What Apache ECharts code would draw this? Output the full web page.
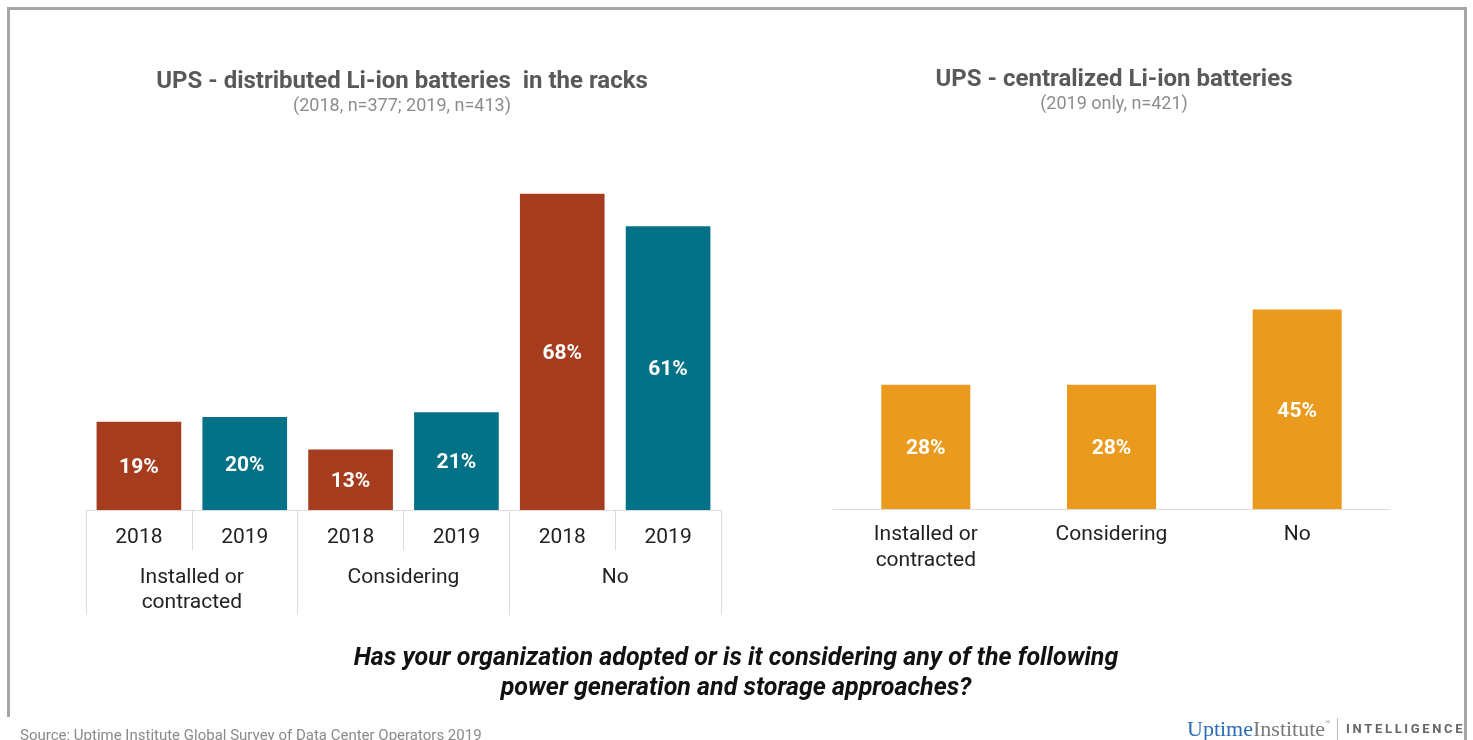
<!DOCTYPE html>
<html>
<head>
<meta charset="utf-8">
<script src="https://cdn.jsdelivr.net/npm/echarts@6/dist/echarts.min.js"></script>
<style>
  html, body { margin: 0; padding: 0; background: #ffffff; }
  #chart { width: 1473px; height: 740px; }
</style>
</head>
<body>
<div id="chart"></div>
<script>
// Distributed Li-ion batteries in the racks (2018 vs 2019)
const distYears = ['2018', '2019', '2018', '2019', '2018', '2019'];
const distGroups = ['Installed or\ncontracted', 'Considering', 'No'];
const distValues = [19, 20, 13, 21, 68, 61];

// Centralized Li-ion batteries (2019 only)
const centCategories = ['Installed or\ncontracted', 'Considering', 'No'];
const centValues = [28, 28, 45];

const COLOR_2018 = '#A63C1E';
const COLOR_2019 = '#037186';
const COLOR_CENT = '#EA9A1C';
const FONT = 'Roboto, "Noto Sans", sans-serif';

const chart = echarts.init(document.getElementById('chart'), null, { renderer: 'canvas' });

const barLabel = {
  show: true,
  position: 'inside',
  offset: [0, 2],
  formatter: p => p.value + '%',
  color: '#ffffff',
  fontFamily: FONT,
  fontWeight: 'bold',
  fontSize: 21
};

const option = {
  backgroundColor: '#ffffff',
  animation: false,
  grid: [
    { left: 86, right: 752, top: 138, bottom: 230, containLabel: false },
    { left: 833, right: 83, top: 243, bottom: 231, containLabel: false }
  ],
  xAxis: [
    {
      type: 'category', gridIndex: 0, data: distYears, position: 'bottom',
      axisLine: { show: true, lineStyle: { color: '#dcdcdc', width: 1 } },
      axisTick: { show: true, length: 40, lineStyle: { color: '#dcdcdc' } },
      axisLabel: { margin: 17, color: '#222222', fontFamily: FONT, fontSize: 21 }
    },
    {
      type: 'category', gridIndex: 0, data: distGroups, position: 'bottom',
      axisLine: { show: false },
      axisTick: { show: true, length: 105, lineStyle: { color: '#dcdcdc' } },
      axisLabel: { margin: 55, color: '#222222', fontFamily: FONT, fontSize: 21, lineHeight: 25 }
    },
    {
      type: 'category', gridIndex: 1, data: centCategories,
      axisLine: { show: true, lineStyle: { color: '#dcdcdc', width: 1 } },
      axisTick: { show: false },
      axisLabel: { margin: 13, color: '#222222', fontFamily: FONT, fontSize: 21, lineHeight: 26 }
    }
  ],
  yAxis: [
    { type: 'value', gridIndex: 0, min: 0, max: 80, show: false },
    { type: 'value', gridIndex: 1, min: 0, max: 60, show: false }
  ],
  series: [
    {
      type: 'bar', xAxisIndex: 0, yAxisIndex: 0,
      barCategoryGap: '20%',
      data: distValues.map((v, i) => ({
        value: v,
        itemStyle: { color: i % 2 === 0 ? COLOR_2018 : COLOR_2019 }
      })),
      label: barLabel
    },
    {
      type: 'bar', xAxisIndex: 2, yAxisIndex: 1,
      barWidth: 89,
      itemStyle: { color: COLOR_CENT },
      data: centValues,
      label: barLabel
    }
  ],
  graphic: [
    // frame
    {
      type: 'polyline', silent: true,
      shape: { points: [[8.5, 717], [8.5, 8.5], [1465.5, 8.5], [1465.5, 740]] },
      style: { stroke: '#A8A4A2', lineWidth: 3, fill: null }
    },
    // panel titles
    {
      type: 'text', x: 402, y: 82,
      style: { text: 'UPS - distributed Li-ion batteries  in the racks', fill: '#595959',
        font: 'bold 24px ' + FONT, textAlign: 'center', textVerticalAlign: 'middle' }
    },
    {
      type: 'text', x: 402, y: 106,
      style: { text: '(2018, n=377; 2019, n=413)', fill: '#8c8c8c',
        font: '18px ' + FONT, textAlign: 'center', textVerticalAlign: 'middle' }
    },
    {
      type: 'text', x: 1114, y: 80,
      style: { text: 'UPS - centralized Li-ion batteries', fill: '#595959',
        font: 'bold 24px ' + FONT, textAlign: 'center', textVerticalAlign: 'middle' }
    },
    {
      type: 'text', x: 1114, y: 104,
      style: { text: '(2019 only, n=421)', fill: '#8c8c8c',
        font: '18px ' + FONT, textAlign: 'center', textVerticalAlign: 'middle' }
    },
    // survey question
    {
      type: 'text', x: 736, y: 659,
      style: { text: 'Has your organization adopted or is it considering any of the following', fill: '#111111',
        font: 'italic bold 25px ' + FONT, textAlign: 'center', textVerticalAlign: 'middle' }
    },
    {
      type: 'text', x: 736, y: 689,
      style: { text: 'power generation and storage approaches?', fill: '#111111',
        font: 'italic bold 25px ' + FONT, textAlign: 'center', textVerticalAlign: 'middle' }
    },
    // source
    {
      type: 'text', x: 20, y: 736,
      style: { text: 'Source: Uptime Institute Global Survey of Data Center Operators 2019', fill: '#8a8a8a',
        font: '15px ' + FONT, textAlign: 'left', textVerticalAlign: 'middle' }
    },
    // brand
    {
      type: 'text', x: 1187, y: 730,
      style: {
        text: '{a|Uptime}{b|Institute}{c|®}',
        textAlign: 'left', textVerticalAlign: 'middle',
        rich: {
          a: { fontFamily: '"Liberation Serif", "DejaVu Serif", serif', fontSize: 22, fill: '#2C6DB8', color: '#2C6DB8' },
          b: { fontFamily: '"Liberation Serif", "DejaVu Serif", serif', fontSize: 22, fill: '#7a7a7a', color: '#7a7a7a' },
          c: { fontFamily: '"Liberation Serif", serif', fontSize: 7, fill: '#7a7a7a', color: '#7a7a7a', verticalAlign: 'top' }
        }
      }
    },
    {
      type: 'line', silent: true,
      shape: { x1: 1337.5, y1: 718, x2: 1337.5, y2: 740 },
      style: { stroke: '#bdbdbd', lineWidth: 1 }
    },
    {
      type: 'text', x: 1346, y: 730,
      style: { text: 'I\u2009N\u2009T\u2009E\u2009L\u2009L\u2009I\u2009G\u2009E\u2009N\u2009C\u2009E', fill: '#666666',
        font: 'bold 13px ' + FONT, textAlign: 'left', textVerticalAlign: 'middle' }
    }
  ]
};

chart.setOption(option);
</script>
</body>
</html>
